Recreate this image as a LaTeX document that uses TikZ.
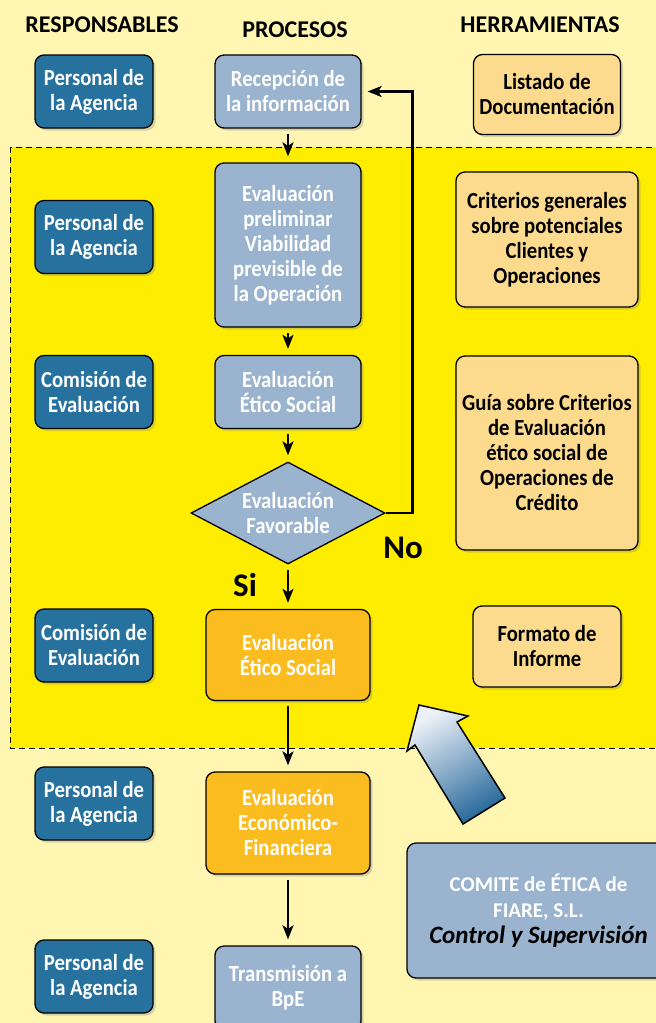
\documentclass[tikz,border=0pt]{standalone}
\usepackage{fontspec}
\setmainfont{Carlito}[FakeStretch=0.9]
\newfontfamily\widefont{Carlito}
\usepackage{tikz}
\usetikzlibrary{shapes,shadows,arrows.meta,positioning}
\definecolor{paleyellow}{RGB}{255,246,178}
\definecolor{brightyellow}{RGB}{255,237,0}
\definecolor{respblue}{RGB}{38,113,158}
\definecolor{procblue}{RGB}{154,179,206}
\definecolor{hotorange}{RGB}{250,188,30}
\definecolor{toolorange}{RGB}{252,218,142}
\definecolor{arrowlight}{RGB}{236,241,248}
\definecolor{arrowdark}{RGB}{40,105,155}

\begin{document}
\begin{tikzpicture}[x=1pt,y=-1pt,
  every node/.append style={font=\bfseries\fontsize{23}{25}\selectfont,align=center},
  >={Stealth[length=14pt,width=11pt,inset=3.5pt]}]
  \tikzstyle{box} = [draw=black,line width=1.3pt,rounded corners=9pt,inner sep=2pt,drop shadow={shadow xshift=2.5pt,shadow yshift=-2.5pt,opacity=0.3}]
  \tikzstyle{resp} = [box,fill=respblue,text=white,minimum width=118pt,minimum height=73pt]
  \tikzstyle{proc} = [box,fill=procblue,text=white,minimum width=146pt,minimum height=73pt]
  \tikzstyle{hot} = [box,fill=hotorange,text=white,minimum width=164pt]
  \tikzstyle{tool} = [box,fill=toolorange,text=black]
  \tikzstyle{colhead} = [font=\widefont\bfseries\fontsize{24}{26}\selectfont]
  \tikzstyle{answer} = [font=\widefont\bfseries\fontsize{33}{33}\selectfont]
  \tikzstyle{flow} = [->,line width=2pt,shorten <=5pt,shorten >=6pt]
  \useasboundingbox (0,0) rectangle (656,1023);
  \clip (0,0) rectangle (656,1023);
  \fill[paleyellow] (0,0) rectangle (656,1023);
  \draw[fill=brightyellow,dash pattern=on 6pt off 4pt,line width=0.9pt] (10,147) rectangle (670,748);
  \node[colhead] (h_1) at (102,25) {RESPONSABLES};
  \node[colhead] (h_2) at (295,30) {PROCESOS};
  \node[colhead] (h_3) at (540,25) {HERRAMIENTAS};
  \node[resp] (r_1) at (94,91.5) {Personal de\\la Agencia};
  \node[resp] (r_2) at (94,237) {Personal de\\la Agencia};
  \node[resp] (r_3) at (94,392) {Comisión de\\Evaluación};
  \node[resp] (r_4) at (94,645.5) {Comisión de\\Evaluación};
  \node[resp] (r_5) at (94,803.5) {Personal de\\la Agencia};
  \node[resp] (r_6) at (94,976.5) {Personal de\\la Agencia};
  \node[proc] (p_1) at (288,91.5) {Recepción de\\la información};
  \node[proc,minimum height=164pt] (p_2) at (288,245) {Evaluación\\preliminar\\Viabilidad\\previsible de\\la Operación};
  \node[proc] (p_3) at (288,392) {Evaluación\\Ético Social};
  \node[diamond,aspect=2,draw=black,line width=1.3pt,fill=procblue,text=white,inner sep=0pt,minimum width=194pt,minimum height=102pt] (d_1) at (288,513) {Evaluación\\Favorable};
  \node[hot,minimum height=91pt] (p_4) at (288,655) {Evaluación\\Ético Social};
  \node[hot,minimum height=102pt] (p_5) at (288,823) {Evaluación\\Económico-\\Financiera};
  \node[proc,minimum height=84pt] (p_6) at (288,988) {Transmisión a\\BpE};
  \node[tool,minimum width=147pt,minimum height=80pt] (t_1) at (547,94.5) {Listado de\\Documentación};
  \node[tool,minimum width=182pt,minimum height=135pt] (t_2) at (547,239.5) {Criterios generales\\sobre potenciales\\Clientes y\\Operaciones};
  \node[tool,minimum width=182pt,minimum height=194pt] (t_3) at (547,453) {Guía sobre Criterios\\de Evaluación\\ético social de\\Operaciones de\\Crédito};
  \node[tool,minimum width=148pt,minimum height=81pt] (t_4) at (547,646.5) {Formato de\\Informe};
  \node[proc,minimum width=263pt,minimum height=135pt,font=\widefont\bfseries\fontsize{21}{26}\selectfont] (c_1) at (538.5,910.5) {COMITE de ÉTICA de\\FIARE, S.L.\\{\fontsize{25}{26}\selectfont\itshape\color{black}Control y Supervisión}};
  \node[answer] (no) at (403,548) {No};
  \node[answer] (si) at (245,585) {Si};
  \draw[flow] (p_1) -- (p_2);
  \draw[flow] (p_2) -- (p_3);
  \draw[flow] (p_3) -- (d_1);
  \draw[flow] (d_1) -- (p_4);
  \draw[flow] (p_4) -- (p_5);
  \draw[flow] (p_5) -- (p_6);
  \draw[flow,line width=2.4pt,shorten <=0pt] (d_1.east) -- ++(27,0) |- (p_1.east);
  \shadedraw[line width=1.5pt,top color=arrowlight,bottom color=arrowdark,shading angle=30] (419,705) -- (468,716) -- (457,722) -- (505,798) -- (463,824) -- (415,745) -- (407,751) -- cycle;
\end{tikzpicture}
\end{document}
